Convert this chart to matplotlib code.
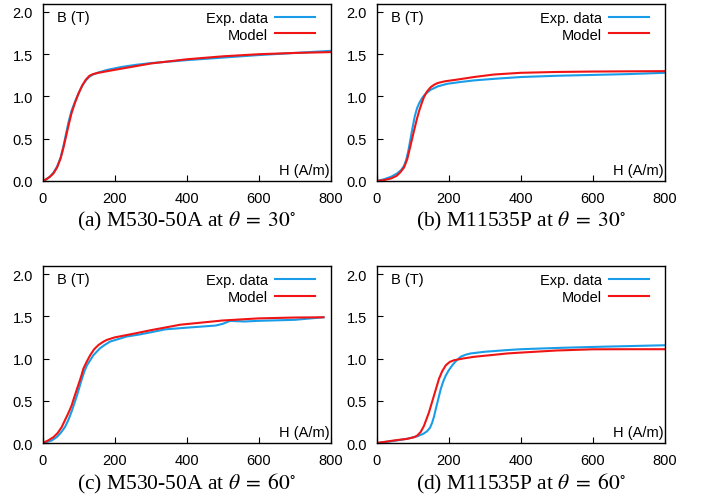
import matplotlib
matplotlib.use("Agg")
import matplotlib.pyplot as plt

plt.rcParams['font.family'] = ['Liberation Sans', 'DejaVu Sans']
plt.rcParams['mathtext.fontset'] = 'stix'

BLUE = '#1a9de8'
RED = '#f01414'

# (a) M530-50A at 30 deg
h_exp_a = [0, 10, 20, 30, 40, 50, 58, 65, 72, 80, 90, 100, 110, 120, 130, 140, 155, 180, 220, 260, 300, 400, 500, 600, 700, 800]
b_exp_a = [0, 0.02, 0.05, 0.10, 0.17, 0.28, 0.42, 0.56, 0.70, 0.83, 0.94, 1.04, 1.13, 1.19, 1.235, 1.26, 1.285, 1.315, 1.35, 1.375, 1.395, 1.43, 1.46, 1.49, 1.515, 1.54]
h_mod_a = [0, 10, 20, 30, 40, 50, 58, 65, 72, 80, 90, 100, 110, 120, 130, 140, 155, 180, 220, 260, 300, 400, 500, 600, 700, 800]
b_mod_a = [0, 0.02, 0.05, 0.09, 0.16, 0.27, 0.40, 0.53, 0.66, 0.80, 0.93, 1.04, 1.13, 1.20, 1.245, 1.265, 1.28, 1.30, 1.33, 1.36, 1.39, 1.44, 1.475, 1.50, 1.515, 1.525]

# (b) M11535P at 30 deg
h_exp_b = [0, 20, 40, 57, 68, 76, 82, 88, 94, 100, 106, 112, 118, 126, 135, 150, 170, 196, 230, 270, 330, 400, 500, 600, 700, 800]
b_exp_b = [0, 0.02, 0.05, 0.09, 0.13, 0.18, 0.25, 0.36, 0.50, 0.64, 0.77, 0.86, 0.92, 0.98, 1.03, 1.08, 1.12, 1.15, 1.17, 1.19, 1.21, 1.23, 1.245, 1.255, 1.265, 1.28]
h_mod_b = [0, 20, 40, 55, 65, 76, 85, 94, 104, 112, 118, 125, 131, 140, 150, 160, 170, 190, 224, 270, 326, 400, 500, 600, 800]
b_mod_b = [0, 0.01, 0.03, 0.06, 0.10, 0.16, 0.26, 0.42, 0.60, 0.74, 0.83, 0.92, 0.99, 1.06, 1.11, 1.14, 1.16, 1.18, 1.20, 1.23, 1.26, 1.28, 1.29, 1.295, 1.30]

# (c) M530-50A at 60 deg
h_exp_c = [0, 10, 25, 39, 50, 62, 72, 81, 88, 95, 102, 109, 116, 123, 132, 141, 150, 159, 172, 187, 210, 233, 270, 300, 340, 400, 480, 500, 520, 560, 600, 700, 780]
b_exp_c = [0, 0.01, 0.03, 0.07, 0.12, 0.19, 0.28, 0.38, 0.47, 0.56, 0.66, 0.76, 0.85, 0.92, 0.98, 1.04, 1.08, 1.12, 1.16, 1.20, 1.23, 1.26, 1.285, 1.31, 1.345, 1.365, 1.39, 1.41, 1.445, 1.438, 1.446, 1.458, 1.488]
h_mod_c = [0, 15, 30, 42, 53, 63, 72, 80, 86, 93, 100, 107, 113, 122, 132, 143, 155, 167, 178, 200, 224, 260, 300, 382, 500, 600, 700, 780]
b_mod_c = [0, 0.03, 0.07, 0.12, 0.19, 0.28, 0.36, 0.44, 0.52, 0.61, 0.70, 0.79, 0.88, 0.96, 1.04, 1.11, 1.16, 1.195, 1.22, 1.25, 1.27, 1.30, 1.335, 1.40, 1.45, 1.475, 1.485, 1.488]

# (d) M11535P at 60 deg
h_exp_d = [0, 40, 85, 113, 130, 140, 148, 154, 159, 164, 171, 178, 185, 192, 200, 210, 220, 233, 247, 261, 300, 363, 400, 500, 600, 700, 800]
b_exp_d = [0, 0.02, 0.05, 0.08, 0.11, 0.14, 0.18, 0.24, 0.31, 0.40, 0.52, 0.64, 0.73, 0.80, 0.86, 0.92, 0.97, 1.02, 1.045, 1.06, 1.08, 1.10, 1.11, 1.125, 1.137, 1.147, 1.157]
h_mod_d = [0, 48, 85, 105, 113, 122, 131, 138, 145, 152, 159, 166, 173, 182, 192, 203, 215, 240, 270, 363, 400, 500, 600, 700, 800]
b_mod_d = [0, 0.03, 0.05, 0.07, 0.09, 0.13, 0.20, 0.28, 0.36, 0.46, 0.56, 0.66, 0.76, 0.85, 0.92, 0.96, 0.98, 1.00, 1.02, 1.06, 1.07, 1.095, 1.109, 1.11, 1.11]

panels = [
    ("(a) M530-50A at $\\theta\\;=\\;30^{\\circ}$", h_exp_a, b_exp_a, h_mod_a, b_mod_a),
    ("(b) M11535P at $\\theta\\;=\\;30^{\\circ}$", h_exp_b, b_exp_b, h_mod_b, b_mod_b),
    ("(c) M530-50A at $\\theta\\;=\\;60^{\\circ}$", h_exp_c, b_exp_c, h_mod_c, b_mod_c),
    ("(d) M11535P at $\\theta\\;=\\;60^{\\circ}$", h_exp_d, b_exp_d, h_mod_d, b_mod_d),
]

fig = plt.figure(figsize=(7.02, 5.02), dpi=100)
lefts = [0.0608, 0.5366]
bottoms = [0.6375, 0.1155]
w, h = 0.4103, 0.3535

for i, (title, hx, bx, hm, bm) in enumerate(panels):
    ax = fig.add_axes([lefts[i % 2], bottoms[i // 2], w, h])
    ax.plot(hx, bx, color=BLUE, lw=1.5, label='Exp. data')
    ax.plot(hm, bm, color=RED, lw=1.5, label='Model')
    ax.set_xlim(0, 800)
    ax.set_ylim(0, 2.1)
    ax.set_xticks([0, 200, 400, 600, 800])
    ax.set_yticks([0, 0.5, 1.0, 1.5, 2.0])
    ax.set_yticklabels(['0.0', '0.5', '1.0', '1.5', '2.0'])
    ax.tick_params(direction='in', length=4.5, width=0.8, labelsize=10.5, pad=7)
    for s in ax.spines.values():
        s.set_linewidth(1.0)
    ax.text(0.05, 0.965, 'B (T)', transform=ax.transAxes, ha='left', va='top', fontsize=10.5)
    ax.text(0.995, 0.025, 'H (A/m)', transform=ax.transAxes, ha='right', va='bottom', fontsize=10.5)
    ax.legend(loc='upper right', bbox_to_anchor=(0.975, 1.005), frameon=False, markerfirst=False,
              fontsize=10.5, handlelength=2.7, handletextpad=0.5, labelspacing=0.15, borderaxespad=0.2)
    ax.text(0.5, -0.155, title, transform=ax.transAxes, ha='center', va='top',
            fontsize=15.5, family='Liberation Serif')

fig.savefig('out.png', dpi=100)
